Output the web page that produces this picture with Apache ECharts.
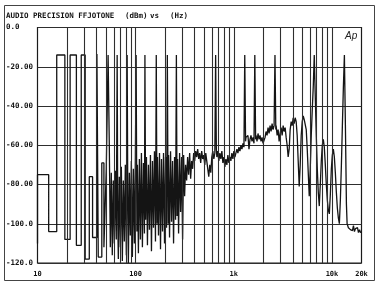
<!DOCTYPE html>
<html><head><meta charset="utf-8">
<script src="https://cdn.jsdelivr.net/npm/echarts@6/dist/echarts.min.js"></script>
<style>html,body{margin:0;padding:0;background:#fff}#c{width:381px;height:287px}</style>
</head><body><div id="c"></div>
<script>
const titleParts = ['AUDIO PRECISION FFJOTONE', '(dBm)', 'vs', '(Hz)'];
const yTickValues = [0, -20, -40, -60, -80, -100, -120];
const yTickLabels = ['0.0', '-20.00', '-40.00', '-60.00', '-80.00', '-100.0', '-120.0'];
const xTickValues = [10, 100, 1000, 10000, 20000];
const xTickLabels = ['10', '100', '1k', '10k', '20k'];
const gridFreqs = [20,30,40,50,60,70,80,90,100,200,300,400,500,600,700,800,900,1000,2000,3000,4000,5000,6000,7000,8000,9000,10000];

// [Hz, dBm]
const lowBandTrace = [[10,-110],[10,-75],[13.0,-75],[13.0,-104],[15.7,-104],[15.7,-14],[19.0,-14],[19.0,-108],[21.5,-108],[21.5,-14],[24.9,-14],[24.9,-111],[27.9,-111],[27.9,-14],[30.6,-14],[30.6,-118],[33.7,-118],[33.7,-76],[36.4,-76],[36.4,-107],[40.3,-107],[40.3,-13.5],[41.6,-13.5],[41.6,-117],[45.2,-117],[45.2,-69],[47.5,-69],[47.5,-112]];
const midBandTrace = [[50.2,-72],[51.4,-40],[52.4,-14],[53.2,-14],[53.9,-60],[55.2,-112],[56.5,-74],[57.8,-116],[59.2,-78],[60.6,-110],[62.1,-73],[63.5,-108],[64.8,-14],[65.8,-100],[66.6,-118],[68.2,-76],[69.8,-112],[71.5,-71],[73.2,-119],[74.9,-78],[76.7,-109],[78.5,-70],[80.4,-116],[81.9,-14],[83.3,-95],[84.3,-120],[86.3,-74],[88.3,-106],[90.4,-68],[92.6,-117],[94.8,-72],[97.1,-110],[99.4,-66],[101.1,-14],[103.0,-104],[104.2,-70],[106.7,-115],[109.2,-67],[111.8,-108],[114.5,-64],[117.2,-112],[120.0,-69],[122.9,-105],[124.3,-14],[126.4,-98],[128.8,-66],[131.9,-111],[135.0,-70],[138.2,-103],[141.5,-65],[144.9,-114],[148.4,-68],[151.9,-102],[155.5,-63],[159.2,-109],[162.2,-14],[164.9,-100],[166.9,-66],[170.9,-106],[175.0,-64],[179.2,-113],[183.4,-67],[187.8,-104],[192.3,-64],[196.9,-110],[201.6,-66],[206.4,-102],[210.3,-14],[214.3,-100],[216.3,-65],[221.5,-107],[226.8,-63],[232.2,-99],[237.7,-68],[243.4,-110],[249.2,-66],[255.1,-98],[260.0,-14],[264.3,-96],[267.4,-67],[273.8,-105],[280.3,-64],[287.0,-94],[293.9,-66],[300.9,-108],[308.1,-65],[315.4,-86],[322.9,-70],[330.6,-78],[338.5,-66],[346.6,-75],[354.9,-64],[363.3,-77],[372.0,-68],[380.9,-72],[390.0,-64],[399.3,-68],[408.8,-63],[418.5,-66],[428.5,-62],[438.7,-67],[449.2,-64],[459.9,-69],[471,-63],[482,-67],[494,-65],[506,-70],[518,-64],[530,-68],[543,-72],[556,-76],[569,-70],[583,-74],[597,-66],[611,-63],[626,-67],[641,-64],[653,-14],[664,-62],[672,-66],[688,-63],[704,-68],[721,-64],[738,-67],[756,-63],[774,-69],[792,-66],[811,-71],[830,-67],[850,-70],[870,-65],[891,-69],[912,-66],[934,-68],[956,-64],[979,-67],[1002,-63],[1026,-66],[1051,-65],[1076,-62],[1101,-64],[1128,-61],[1155,-63],[1182,-60],[1211,-62],[1240,-59],[1269,-61],[1293,-14],[1318,-58],[1330,-56],[1362,-57],[1394,-55],[1428,-62],[1462,-57],[1496,-55],[1532,-58],[1569,-56],[1606,-59],[1637,-14],[1668,-57],[1684,-55],[1724,-58],[1765,-54],[1807,-57],[1850,-55],[1894,-58],[1940,-56],[1986,-59],[2033,-60],[2082,-56],[2131,-53],[2182,-55],[2234,-51],[2288,-54],[2342,-50],[2398,-53],[2455,-49],[2514,-52],[2574,-50],[2627,-14],[2679,-52],[2698,-50],[2763,-55],[2829,-52],[2896,-58],[2965,-54],[3035,-51],[3108,-55],[3182,-50],[3258,-53],[3336,-51],[3414,-56],[3496,-60],[3579,-66],[3665,-62],[3752,-52],[3841,-48],[3933,-50],[4027,-46],[4123,-49],[4221,-46],[4321,-48],[4424,-55],[4530,-68],[4638,-81],[4749,-70],[4862,-55]];
const highBandTrace = [[4978,-48],[5097,-45],[5219,-47],[5343,-46],[5470,-52],[5601,-62],[5734,-74],[5871,-86],[6011,-72],[6153,-55],[6300,-42],[6451,-30],[6604,-14],[6762,-35],[6923,-55],[7088,-72],[7257,-84],[7430,-91],[7607,-80],[7789,-68],[7974,-60],[8164,-57],[8359,-61],[8558,-70],[8763,-80],[8971,-88],[9185,-93],[9404,-95],[9629,-85],[9860,-72],[10090,-65],[10330,-62],[10580,-66],[10830,-74],[11090,-84],[11350,-92],[11620,-97],[11900,-100],[12180,-88],[12480,-70],[12770,-50],[13080,-30],[13390,-14],[13710,-50],[14040,-90],[14270,-100],[14370,-101],[14710,-102],[15060,-101.5],[15420,-103],[15800,-102],[16170,-103.5],[16560,-101],[16950,-104],[17360,-102.5],[17770,-103],[18200,-102],[18630,-104.5],[19080,-103],[19530,-104.5],[20000,-104]];

const traceData = lowBandTrace.concat(midBandTrace, highBandTrace);
const mono = '"DejaVu Sans Mono", monospace';
const ink = '#111';
const gridInk = '#2e2e2e';

const chart = echarts.init(document.getElementById('c'), null, {renderer: 'canvas'});
chart.setOption({
  animation: false,
  backgroundColor: '#fff',
  grid: {left: 37.5, right: 19.5, top: 27.5, bottom: 24, show: true, borderColor: '#1a1a1a', borderWidth: 1.2, backgroundColor: 'transparent'},
  xAxis: {
    type: 'log', logBase: 10, min: 10, max: 20000,
    axisLine: {show: false}, axisTick: {show: false},
    splitLine: {show: false},
    axisLabel: {
      margin: 8, fontFamily: mono, fontWeight: 'bold', fontSize: 7, color: ink,
      showMinLabel: true, showMaxLabel: true,
      formatter: v => { const i = xTickValues.findIndex(t => Math.abs(t - v) / t < 1e-6); return i >= 0 ? xTickLabels[i] : ''; }
    }
  },
  yAxis: {
    type: 'value', min: -120, max: 0, interval: 20,
    axisLine: {show: false}, axisTick: {show: false},
    splitLine: {show: true, lineStyle: {color: gridInk, width: 1.1}},
    axisLabel: {
      align: 'left', margin: 31.5, fontFamily: mono, fontWeight: 'bold', fontSize: 7.5, color: ink,
      formatter: v => { const i = yTickValues.indexOf(v); return i >= 0 ? yTickLabels[i] : ''; }
    }
  },
  series: [{
    type: 'line', data: traceData, showSymbol: false, clip: true,
    lineStyle: {color: '#141414', width: 1.3},
    emphasis: {disabled: true},
    markLine: {
      silent: true, symbol: ['none', 'none'], label: {show: false},
      lineStyle: {color: gridInk, width: 1.1, type: 'solid'},
      emphasis: {disabled: true},
      data: gridFreqs.map(f => ({xAxis: f}))
    }
  }],
  graphic: [
    {type: 'rect', shape: {x: 4.5, y: 5.5, width: 370, height: 275}, style: {fill: 'none', stroke: '#444', lineWidth: 1}, silent: true},
    {type: 'text', x: 6, y: 12, style: {text: titleParts[0], font: 'bold 7.5px ' + mono, fill: ink}},
    {type: 'text', x: 125, y: 12, style: {text: titleParts[1], font: 'bold 7.5px ' + mono, fill: ink}},
    {type: 'text', x: 150, y: 12, style: {text: titleParts[2], font: 'bold 7.5px ' + mono, fill: ink}},
    {type: 'text', x: 170, y: 12, style: {text: titleParts[3], font: 'bold 7.5px ' + mono, fill: ink}},
    {type: 'text', x: 345, y: 31, style: {text: 'Ap', font: 'italic 10px "Liberation Sans", sans-serif', fill: '#222'}}
  ]
});
</script></body></html>
